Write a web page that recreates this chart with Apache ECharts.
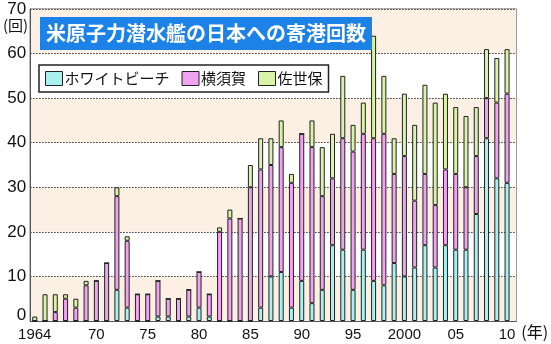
<!DOCTYPE html>
<html>
<head>
<meta charset="utf-8">
<title>米原子力潜水艦の日本への寄港回数</title>
<script src="https://cdn.jsdelivr.net/npm/echarts@6/dist/echarts.min.js"></script>
<style>
  html, body { margin: 0; padding: 0; background: #ffffff; }
  #chart { width: 551px; height: 344px; }
</style>
</head>
<body>
<div id="chart"></div>
<script>
// Port calls per year, 1964–2010
const years = [
  1964, 1965, 1966, 1967, 1968, 1969, 1970, 1971, 1972, 1973,
  1974, 1975, 1976, 1977, 1978, 1979, 1980, 1981, 1982, 1983,
  1984, 1985, 1986, 1987, 1988, 1989, 1990, 1991, 1992, 1993,
  1994, 1995, 1996, 1997, 1998, 1999, 2000, 2001, 2002, 2003,
  2004, 2005, 2006, 2007, 2008, 2009, 2010
];
const whiteBeach = [
  0, 0, 0, 0, 0, 0, 0, 0, 7, 3,
  0, 0, 1, 1, 0, 1, 3, 1, 0, 0,
  0, 0, 3, 10, 11, 3, 9, 4, 7, 17,
  16, 7, 16, 9, 8, 13, 10, 12, 17, 12,
  17, 16, 16, 24, 41, 32, 31
];
const yokosuka = [
  0, 0, 2, 5, 3, 8, 9, 13, 21, 15,
  6, 6, 8, 4, 5, 6, 8, 5, 20, 23,
  23, 30, 31, 25, 28, 28, 33, 35, 21, 15,
  25, 31, 26, 32, 34, 20, 27, 15, 16, 14,
  17, 17, 14, 13, 9, 17, 20
];
const sasebo = [
  1, 6, 4, 1, 2, 1, 0, 0, 2, 1,
  0, 0, 0, 0, 0, 0, 0, 0, 1, 2,
  0, 5, 7, 6, 6, 2, 0, 6, 11, 10,
  14, 6, 7, 23, 13, 8, 14, 17, 20, 23,
  17, 15, 16, 11, 11, 10, 10
];
const yTicks = [0, 10, 20, 30, 40, 50, 60, 70];
const xTickYears = [1964, 1970, 1975, 1980, 1985, 1990, 1995, 2000, 2005, 2010];
const xTickLabels = ['1964', '70', '75', '80', '85', '90', '95', '2000', '05', '10'];

const seriesNames = ['ホワイトビーチ', '横須賀', '佐世保'];
const seriesColors = ['#a9f1ef', '#f0a4ef', '#d9f3a9'];
const seriesValues = [whiteBeach, yokosuka, sasebo];

// [count, year] so the count is the first (stacked) dimension
const pairs = vals => years.map((y, i) => [vals[i], y]);

const chart = echarts.init(document.getElementById('chart'), null, { renderer: 'canvas' });

const numFont = '"Liberation Sans", Arial, sans-serif';
const jpFont = '"Noto Sans CJK JP", "Noto Sans", sans-serif';

chart.setOption({
  animation: false,
  backgroundColor: '#ffffff',
  title: {
    text: '米原子力潜水艦の日本への寄港回数',
    left: 40,
    top: 17,
    padding: [5, 6, 5, 6],
    backgroundColor: '#1d82e8',
    textStyle: {
      color: '#ffffff',
      fontSize: 20,
      fontWeight: 'bold',
      fontFamily: jpFont,
      lineHeight: 23
    }
  },
  legend: {
    left: 39,
    top: 65,
    orient: 'horizontal',
    padding: [6, 6, 6, 6],
    backgroundColor: '#ffffff',
    borderColor: '#222222',
    borderWidth: 1.5,
    itemWidth: 17,
    itemHeight: 14,
    itemGap: 12,
    icon: 'rect',
    itemStyle: { borderColor: '#222222', borderWidth: 1 },
    textStyle: { fontSize: 15, color: '#111111', fontFamily: jpFont, padding: [0, 0, 0, -3] },
    data: seriesNames
  },
  grid: {
    left: 30,
    right: 28,
    top: 9,
    bottom: 23,
    show: true,
    borderColor: '#555555',
    borderWidth: 1,
    backgroundColor: 'transparent'
  },
  xAxis: {
    type: 'value',
    min: 1963.55,
    max: 2010.9,
    name: '(年)',
    nameLocation: 'end',
    nameGap: -5,
    nameTextStyle: {
      fontSize: 16,
      color: '#111111',
      fontFamily: jpFont,
      align: 'left',
      verticalAlign: 'top',
      padding: [3, 0, 0, 0]
    },
    axisLine: { show: true, lineStyle: { color: '#555555', width: 1 } },
    axisTick: { show: false },
    splitLine: { show: false },
    axisLabel: {
      customValues: xTickYears,
      margin: 6,
      fontSize: 15,
      color: '#111111',
      fontFamily: numFont,
      formatter: v => {
        const i = xTickYears.indexOf(Math.round(v));
        return i >= 0 ? xTickLabels[i] : '';
      }
    }
  },
  yAxis: {
    type: 'value',
    min: yTicks[0],
    max: yTicks[yTicks.length - 1],
    interval: 10,
    name: '(回)',
    nameLocation: 'end',
    nameGap: -16,
    nameTextStyle: {
      fontSize: 15,
      color: '#111111',
      fontFamily: jpFont,
      align: 'right',
      verticalAlign: 'middle',
      padding: [0, 2, 0, 0]
    },
    axisLine: { show: true, lineStyle: { color: '#555555', width: 1 } },
    axisTick: { show: false },
    axisLabel: {
      margin: 4,
      fontSize: 17,
      color: '#111111',
      fontFamily: numFont,
      formatter: v => (v === 0 ? '{z|0}' : String(v)),
      rich: {
        z: { fontSize: 17, fontFamily: numFont, color: '#111111', padding: [0, 0, 12, 0] }
      }
    },
    splitLine: {
      show: true,
      lineStyle: { color: '#333333', width: 1, type: [1.5, 1.5] }
    },
    splitArea: {
      show: true,
      areaStyle: { color: ['#fcefe3', '#ffffff'] }
    }
  },
  series: seriesNames.map((name, k) => ({
    name: name,
    type: 'bar',
    stack: 'calls',
    barWidth: 5,
    encode: { x: 1, y: 0 },
    itemStyle: {
      color: seriesColors[k],
      borderColor: '#222222',
      borderWidth: 1
    },
    emphasis: { disabled: true },
    data: pairs(seriesValues[k])
  }))
});
</script>
</body>
</html>
